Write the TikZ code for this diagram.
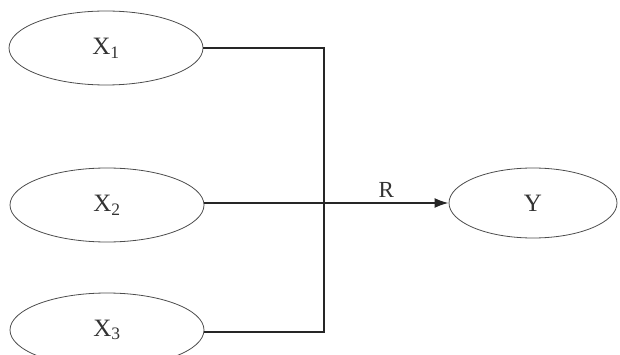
\documentclass[tikz,border=0pt]{standalone}
\usepackage{fontspec}
\setmainfont{Liberation Serif}
\usetikzlibrary{shapes.geometric,arrows.meta}
\begin{document}
\begin{tikzpicture}[x=1pt,y=-1pt,
  oval/.style={draw=black!70,line width=0.8pt,ellipse,minimum width=194pt,minimum height=74pt,inner sep=0pt,font=\fontsize{25}{27}\selectfont,text=black!80},
  wire/.style={draw=black!85,line width=2pt},
  lab/.style={font=\fontsize{23}{25}\selectfont,text=black!80}]
\useasboundingbox (0,0) rectangle (620,355);
\clip (0,0) rectangle (620,355);
\node[oval] (x1) at (106,48) {X\textsubscript{1}};
\node[oval] (x2) at (107,205) {X\textsubscript{2}};
\node[oval] (x3) at (107,330) {X\textsubscript{3}};
\node[oval,minimum width=168pt,minimum height=70pt] (y) at (533,203) {Y};
\coordinate (j1) at (324,48);
\coordinate (j2) at (324,203);
\coordinate (j3) at (324,332);
\draw[wire] (x1.east) -- (j1) -- (j3) -- (x3.east |- j3);
\draw[wire] (x2.east |- j2) -- (j2);
\draw[wire,-{Latex[length=14pt,width=10pt]}] (j2) -- node[lab,above=1pt] {R} (y.west);
\end{tikzpicture}
\end{document}
